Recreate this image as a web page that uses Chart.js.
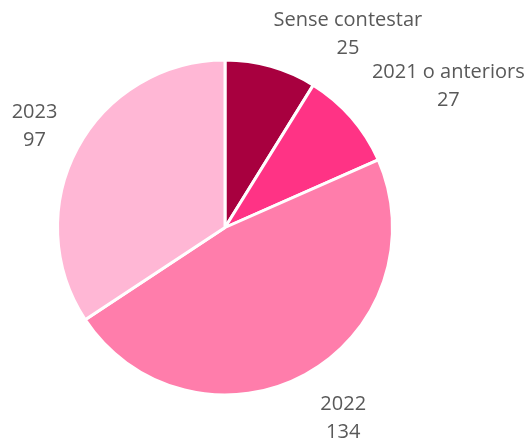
<!DOCTYPE html>
<html>
<head>
<meta charset="utf-8">
<script src="https://cdn.jsdelivr.net/npm/chart.js@4"></script>
<style>
  html, body { margin: 0; padding: 0; background: #fff; }
  #wrap { width: 530px; height: 442px; position: relative; }
</style>
</head>
<body>
<div id="wrap"><canvas id="pie"></canvas></div>
<script>
// --- Data ---
const categories = ['Sense contestar', '2021 o anteriors', '2022', '2023'];
const counts = [25, 27, 134, 97];
const sliceColors = ['#A8003F', '#FF3385', '#FF7DAB', '#FFB7D5'];

// label offsets (px) from the outer edge of each slice at its mid angle
const labelOffsets = [[77, -32], [97, -31], [38, 44], [-43, -22]];

// --- Outside labels: name on line 1, value on line 2 ---
const outsideLabels = {
    id: 'outsideLabels',
    afterDraw(chart) {
        const ctx = chart.ctx;
        const meta = chart.getDatasetMeta(0);
        ctx.save();
        ctx.font = '20px "Open Sans", sans-serif';
        ctx.fillStyle = '#595959';
        ctx.textAlign = 'center';
        ctx.textBaseline = 'middle';
        meta.data.forEach((arc, i) => {
            const p = arc.getProps(['x', 'y', 'startAngle', 'endAngle', 'outerRadius'], true);
            const mid = (p.startAngle + p.endAngle) / 2;
            const x = p.x + Math.cos(mid) * p.outerRadius + labelOffsets[i][0];
            const y = p.y + Math.sin(mid) * p.outerRadius + labelOffsets[i][1];
            ctx.fillText(categories[i], x, y - 14);
            ctx.fillText(String(counts[i]), x, y + 14);
        });
        ctx.restore();
    }
};

new Chart(document.getElementById('pie'), {
    type: 'pie',
    data: {
        labels: categories,
        datasets: [{
            data: counts,
            backgroundColor: sliceColors,
            borderColor: '#ffffff',
            borderWidth: 3
        }]
    },
    options: {
        responsive: true,
        maintainAspectRatio: false,
        animation: false,
        layout: { padding: { left: 56, right: 136, top: 58.5, bottom: 45.5 } },
        plugins: {
            legend: { display: false },
            tooltip: { enabled: false }
        }
    },
    plugins: [outsideLabels]
});
</script>
</body>
</html>
